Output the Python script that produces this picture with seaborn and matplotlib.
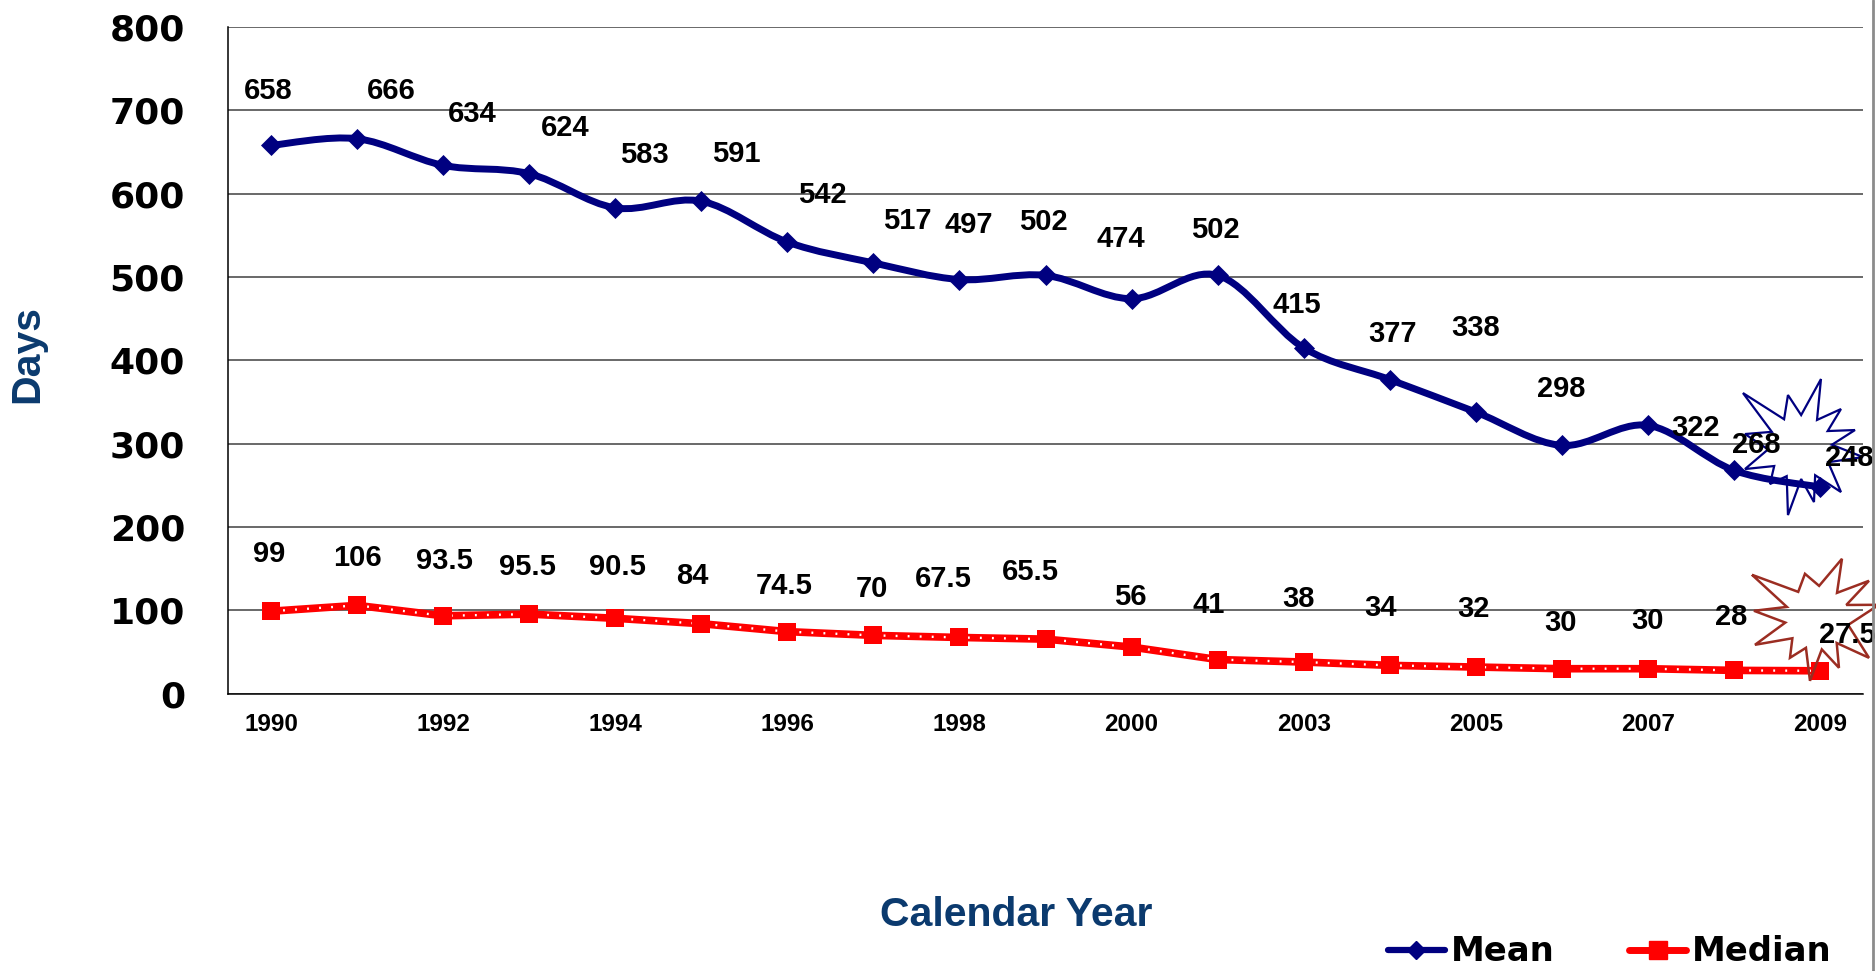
import numpy as np
import pandas as pd
import seaborn as sns
import matplotlib.pyplot as plt
from matplotlib.path import Path
from matplotlib.patches import PathPatch, Polygon
from matplotlib.lines import Line2D
from matplotlib.transforms import IdentityTransform

# ---- data ----
years = ["1990", "1991", "1992", "1993", "1994", "1995", "1996", "1997",
         "1998", "1999", "2000", "2002", "2003", "2004", "2005", "2006",
         "2007", "2008", "2009"]
mean_days = [658, 666, 634, 624, 583, 591, 542, 517, 497, 502, 474, 502,
             415, 377, 338, 298, 322, 268, 248]
median_days = [99, 106, 93.5, 95.5, 90.5, 84, 74.5, 70, 67.5, 65.5, 56, 41,
               38, 34, 32, 30, 30, 28, 27.5]
y_ticks = [0, 100, 200, 300, 400, 500, 600, 700, 800]

# label placement (pixels: dx right, dy up from the point)
mean_offsets = [(-3, 57), (34, 50), (29, 54), (36, 48), (29, 55), (35, 50),
                (35, 49), (34, 44), (9, 57), (-2, 56), (-11, 62), (-2, 48),
                (-7, 45), (3, 48), (0, 86), (-1, 59), (48, 0), (22, 28),
                (29, 31)]
median_offsets = [(-2, 60), (0, 50), (1, 57), (-2, 50), (2, 54), (-9, 50),
                  (-3, 48), (-1, 49), (-16, 61), (-15, 70), (-1, 52), (-9, 57),
                  (-5, 65), (-9, 60), (-2, 60), (-1, 48), (0, 50), (-3, 56),
                  (27, 38)]

# starburst shapes (pixel offsets of the spikes from the burst centre)
blue_tips = [(-57, 54), (-12, 52), (21, 68), (41, 38), (55, 17), (63, -10),
             (41, -45), (14, -55), (-12, -68), (-30, -37), (-55, -22), (-55, 13)]
red_tips = [(-65, 43), (-12, 44), (25, 59), (52, 37), (62, 13), (52, -40),
            (22, -50), (-7, -63), (-27, -40), (-62, -27), (-63, 7)]

DPI = 100
PT = 72 / DPI  # pixels -> points
NAVY = "#000080"
RED = "#ff0000"
TITLE_COLOR = "#0b3a6e"

sns.set_style("white")
plt.rcParams["font.family"] = ["Liberation Sans", "DejaVu Sans"]
plt.rcParams["text.color"] = "black"

df = pd.DataFrame({"pos": np.arange(len(years)), "year": years,
                   "mean": mean_days, "median": median_days})

fig = plt.figure(figsize=(18.76, 9.71), dpi=DPI)
ax = fig.add_axes([228 / 1876, 1 - 693 / 970, 1635 / 1876, 666 / 970])
ax.set_xlim(-0.5, len(years) - 0.5)
ax.set_ylim(0, 800)


def smooth_path(xs, ys):
    """Excel-like smoothed line through the points (cubic Bezier)."""
    pts = np.column_stack([xs, ys]).astype(float)
    n = len(pts)
    verts, codes = [pts[0]], [Path.MOVETO]
    for i in range(n - 1):
        p0, p1 = pts[max(i - 1, 0)], pts[i]
        p2, p3 = pts[i + 1], pts[min(i + 2, n - 1)]
        verts += [p1 + (p2 - p0) / 6, p2 - (p3 - p1) / 6, p2]
        codes += [Path.CURVE4] * 3
    return Path(verts, codes)


# mean: smooth navy line + diamonds
ax.add_patch(PathPatch(smooth_path(df["pos"], df["mean"]), fill=False,
                       edgecolor=NAVY, lw=5, capstyle="round",
                       joinstyle="round", zorder=3))
sns.scatterplot(data=df, x="pos", y="mean", marker="D", s=115, color=NAVY,
                linewidth=0, zorder=5, ax=ax, legend=False)

# median: red line with white dots + squares
sns.lineplot(data=df, x="pos", y="median", color=RED, lw=5.5, zorder=3,
             ax=ax, legend=False)
sns.lineplot(data=df, x="pos", y="median", color="white", lw=1.7,
             linestyle=(0, (0.8, 4.3)), zorder=4, ax=ax, legend=False)
sns.scatterplot(data=df, x="pos", y="median", marker="s", s=165, color=RED,
                linewidth=0, zorder=5, ax=ax, legend=False)

# value labels
label_font = dict(fontsize=21, fontweight="bold", color="black",
                  ha="center", va="baseline", zorder=7)
cap_half = 0.716 * 21 / PT / 2
for i, row in df.iterrows():
    dx, dy = mean_offsets[i]
    ax.annotate(f"{row['mean']:g}", (row["pos"], row["mean"]),
                xytext=(dx * PT, (dy - cap_half) * PT),
                textcoords="offset points", **label_font)
    dx, dy = median_offsets[i]
    ax.annotate(f"{row['median']:g}", (row["pos"], row["median"]),
                xytext=(dx * PT, (dy - cap_half) * PT),
                textcoords="offset points", **label_font)

# axes styling
ax.set_yticks(y_ticks, labels=[str(t) for t in y_ticks],
              fontfamily="DejaVu Sans", fontweight="heavy", fontsize=26)
ax.tick_params(axis="y", direction="out", length=13 * PT, width=1,
               color="black", labelcolor="black", pad=30 * PT)
ax.set_xticks(df["pos"][::2], labels=years[::2], fontsize=17.5,
              fontweight="bold")
ax.set_xticks(np.arange(-0.5, len(years)), minor=True)
ax.tick_params(axis="x", which="major", length=0, pad=19 * PT,
               labelcolor="black")
ax.tick_params(axis="x", which="minor", direction="out", length=6 * PT,
               width=1, color="black")
ax.set_xlabel("")
ax.set_ylabel("")
ax.yaxis.grid(True, color="#404040", lw=1.1)
ax.xaxis.grid(False)
ax.set_axisbelow(True)
for side in ["top", "right"]:
    ax.spines[side].set_visible(False)
for side in ["left", "bottom"]:
    ax.spines[side].set_color("black")
    ax.spines[side].set_linewidth(1.1)

fig.text(27.5 / 1876, 1 - 353.5 / 970, "Days", rotation=90, ha="center",
         va="center", fontsize=29.5, fontweight="bold", color=TITLE_COLOR)
fig.text(1016 / 1876, 1 - 925 / 970, "Calendar Year", ha="center",
         va="baseline", fontsize=29.5, fontweight="bold", color=TITLE_COLOR)


# starbursts around the latest values
def star_vertices(center, tips, inner_r):
    cx, cy = center
    angles = [np.arctan2(dy, dx) for dx, dy in tips]
    verts = []
    for k, (dx, dy) in enumerate(tips):
        verts.append((cx + dx, cy + dy))
        a1, a2 = angles[k], angles[(k + 1) % len(tips)]
        d = (a2 - a1 + np.pi) % (2 * np.pi) - np.pi
        am = a1 + d / 2
        verts.append((cx + inner_r * np.cos(am), cy + inner_r * np.sin(am)))
    return verts


last = len(years) - 1
blue_c = ax.transData.transform((last, mean_days[-1])) + np.array([-20, 40])
red_c = ax.transData.transform((last, median_days[-1])) + np.array([-3, 53])
ax.add_artist(Polygon(star_vertices(blue_c, blue_tips, 32), closed=True,
                      fill=False, edgecolor=NAVY, lw=1.6,
                      transform=IdentityTransform(), clip_on=False, zorder=6))
ax.add_artist(Polygon(star_vertices(red_c, red_tips, 32), closed=True,
                      fill=False, edgecolor="#9b2d22", lw=1.8,
                      transform=IdentityTransform(), clip_on=False, zorder=6))

# chart border on the right
fig.add_artist(Line2D([1873 / 1876] * 2, [0, 1], transform=fig.transFigure,
                      color="#8c8c8c", lw=2))

# legend
mean_handle = Line2D([], [], color=NAVY, lw=4.5, marker="D", markersize=9.5,
                     solid_capstyle="round")
median_handle = Line2D([], [], color=RED, lw=5, marker="s", markersize=12.5,
                       solid_capstyle="round")
fig.legend([mean_handle, median_handle], ["Mean", "Median"],
           loc="center left", bbox_to_anchor=(1371 / 1876, 1 - 951 / 970),
           ncol=2, frameon=False, borderpad=0, handlelength=1.68,
           handletextpad=0.18, columnspacing=2.2, labelcolor="black",
           prop={"family": "DejaVu Sans", "weight": "heavy", "size": 24.4})

fig.savefig("out.png", dpi=DPI)
